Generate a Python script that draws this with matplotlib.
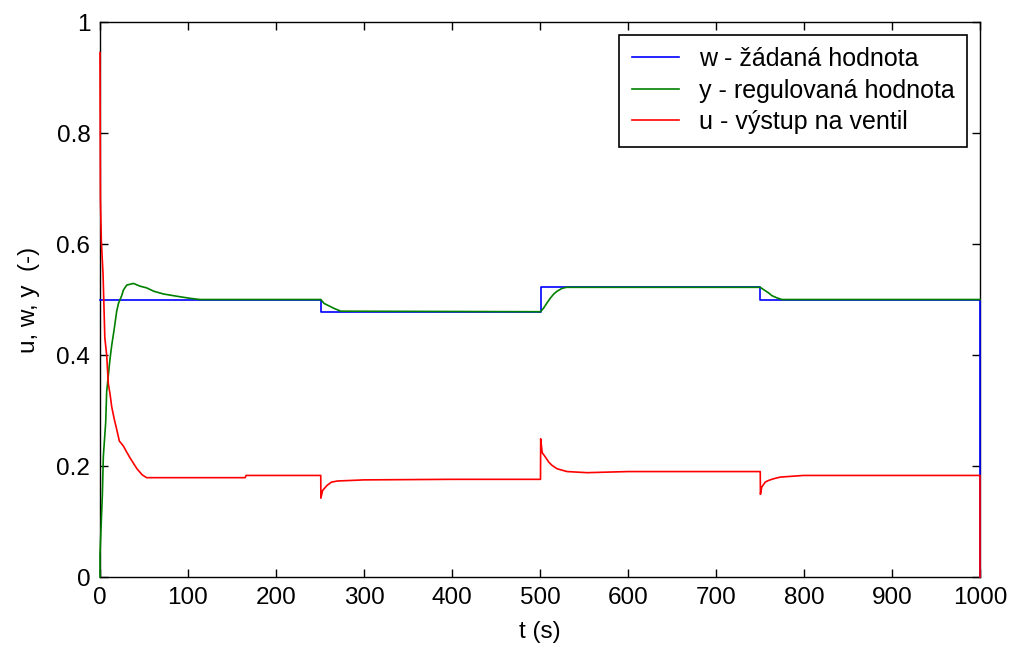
import numpy as np
import matplotlib
matplotlib.use("Agg")
import matplotlib.pyplot as plt

plt.rcParams['font.family'] = ['Liberation Sans', 'DejaVu Sans']

# w - setpoint
t_w = [0, 250.9, 250.9, 500.6, 500.6, 750.3, 750.3, 1000, 1000]
w = [0.5, 0.5, 0.478, 0.478, 0.522, 0.522, 0.5, 0.5, 0.0]

# y - controlled value
t_y = [0, 0, 2.7, 3.8, 6.5, 7.6, 11.4, 13.3, 16, 19, 21, 24.7, 26.6, 30.4, 38,
       45.6, 53, 61, 72, 87, 103, 114, 250.9, 254.6, 258.4, 262.2, 266, 273.6,
       500.6, 504.3, 508, 512, 515.7, 519.5, 525, 530, 750.3, 754, 759.7, 763.5,
       769.2, 775, 1000]
y = [0.0, 0.041, 0.148, 0.217, 0.279, 0.334, 0.393, 0.417, 0.445, 0.479, 0.493,
     0.507, 0.517, 0.526, 0.529, 0.524, 0.521, 0.515, 0.51, 0.506, 0.502, 0.5,
     0.5, 0.493, 0.49, 0.487, 0.484, 0.479, 0.478, 0.485, 0.494, 0.503, 0.51,
     0.515, 0.52, 0.522, 0.522, 0.518, 0.512, 0.507, 0.503, 0.5, 0.5]

# u - valve output
t_u = [0, 0.5, 1.5, 3.5, 5.5, 7.6, 9.5, 11.4, 13.3, 16, 19, 22, 26.6, 30.4, 34,
       38, 42, 48, 53, 165, 166, 250.9, 251, 253, 258, 263, 270, 300, 400,
       500.6, 500.8, 502.5, 506.2, 510, 513.8, 519.5, 530.8, 553.6, 600, 750.3,
       750.5, 752, 756, 759.7, 765.4, 773, 799.5, 1000, 1000]
u = [0.945, 0.683, 0.607, 0.545, 0.431, 0.40, 0.348, 0.33, 0.307, 0.286, 0.266,
     0.245, 0.236, 0.225, 0.215, 0.205, 0.195, 0.184, 0.179, 0.179, 0.183,
     0.183, 0.142, 0.156, 0.165, 0.171, 0.173, 0.175, 0.176, 0.176, 0.249,
     0.224, 0.216, 0.207, 0.201, 0.195, 0.19, 0.188, 0.19, 0.19, 0.149, 0.162,
     0.171, 0.174, 0.177, 0.18, 0.183, 0.183, 0.0]

x_ticks = np.arange(0, 1001, 100)
y_ticks = [0, 0.2, 0.4, 0.6, 0.8, 1]
y_tick_labels = ['0', '0.2', '0.4', '0.6', '0.8', '1']

fs = 17.5
fig = plt.figure(figsize=(10.13, 6.5), dpi=100)
ax = fig.add_axes([0.0987, 0.1123, 0.8687, 0.8538])

ax.plot(t_w, w, color=(0, 0, 1), lw=1.2, label='w - žádaná hodnota',
        zorder=3, clip_on=False)
ax.plot(t_y, y, color=(0, 0.5, 0), lw=1.2, label='y - regulovaná hodnota',
        zorder=3, clip_on=False)
ax.plot(t_u, u, color=(1, 0, 0), lw=1.2, label='u - výstup na ventil',
        zorder=3, clip_on=False)

ax.set_xlim(0, 1000)
ax.set_ylim(0, 1)
ax.set_xticks(x_ticks)
ax.set_yticks(y_ticks)
ax.set_yticklabels(y_tick_labels)
ax.tick_params(axis='both', direction='in', length=6, width=1, top=True,
               right=True, labelsize=fs)
ax.tick_params(axis='x', pad=7)
ax.tick_params(axis='y', pad=7)
for s in ax.spines.values():
    s.set_linewidth(1)
ax.set_xlabel('t (s)', fontsize=fs, labelpad=9)
ax.set_ylabel('u, w, y  (-)', fontsize=fs, labelpad=12)

leg = ax.legend(loc='upper right', fontsize=18, fancybox=False, framealpha=1,
                edgecolor='black', handlelength=1.9, labelspacing=0.3,
                borderaxespad=0.5, handletextpad=0.8, borderpad=0.5)
leg.get_frame().set_linewidth(1.2)

fig.savefig('out.png', dpi=100)
